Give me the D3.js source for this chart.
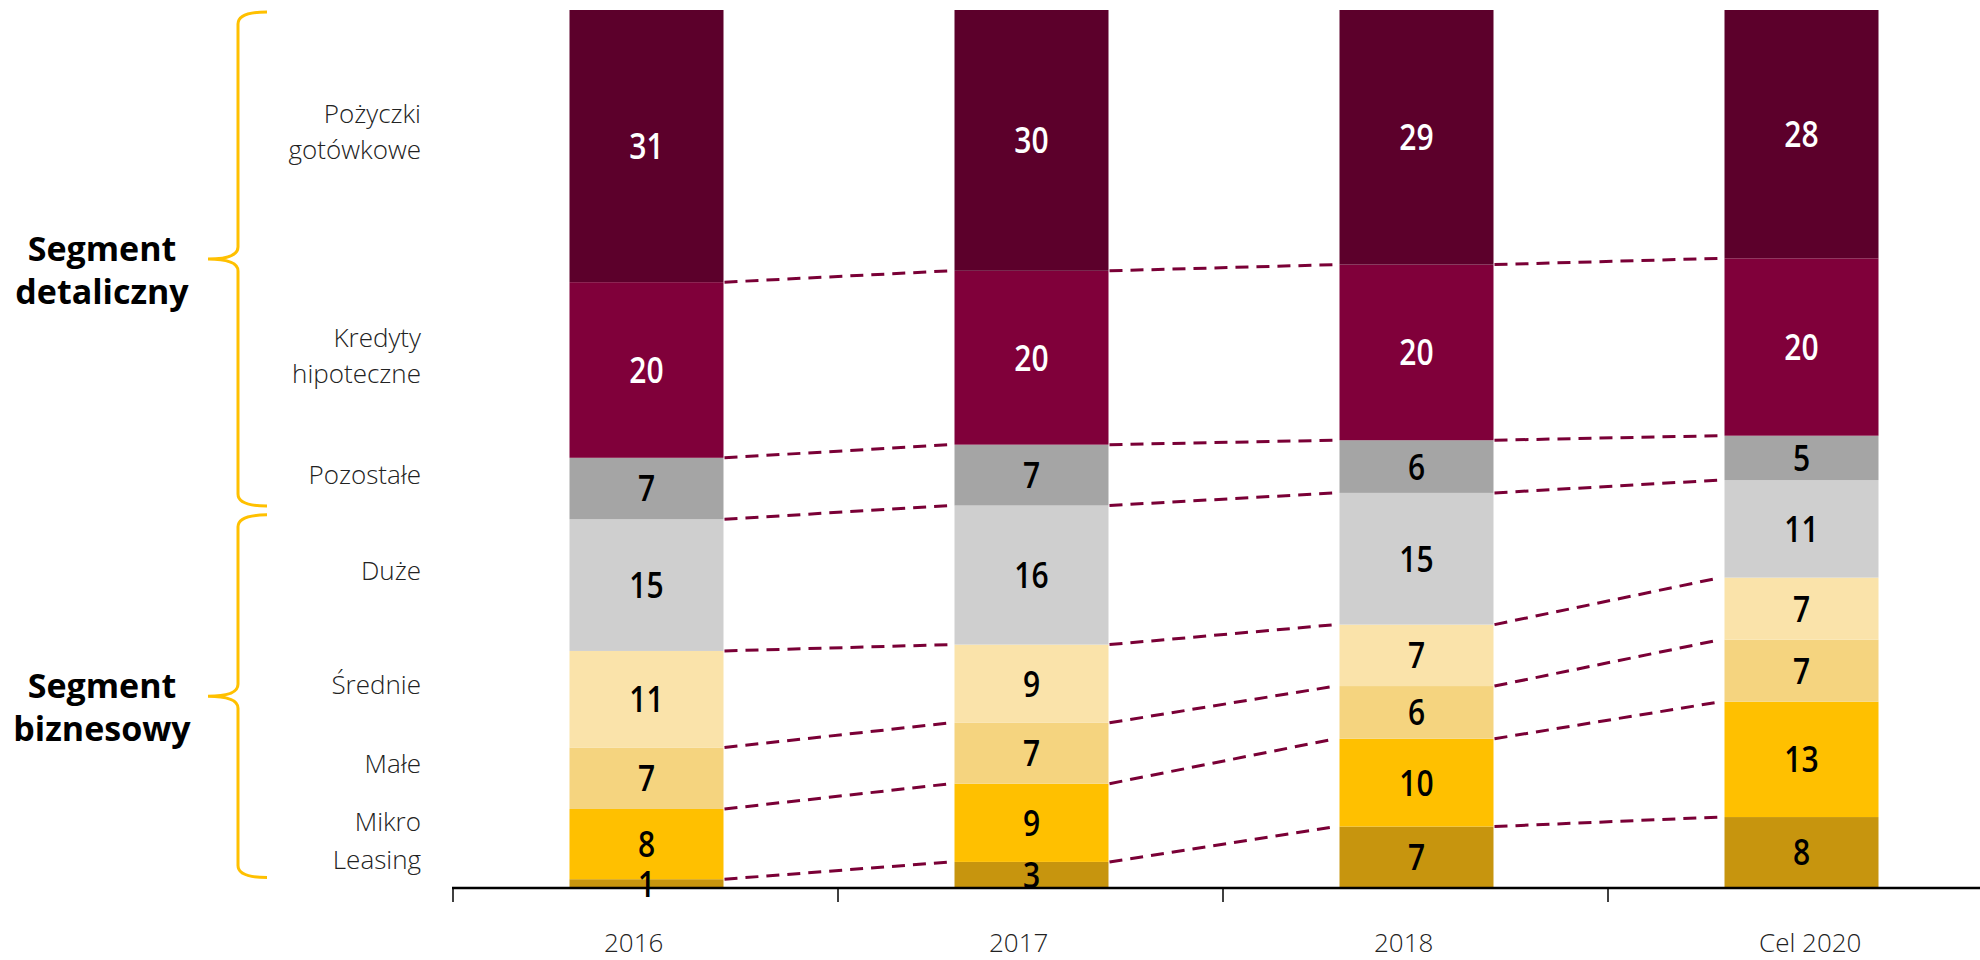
<!DOCTYPE html>
<html>
<head>
<meta charset="utf-8">
<script src="https://cdn.jsdelivr.net/npm/d3@7"></script>
<style>
  body { margin: 0; background: #fff; }
  svg { display: block; font-family: "Open Sans", "Noto Sans", sans-serif; }
</style>
</head>
<body>
<script>
// data (bottom of the stack first)
var years = ["2016", "2017", "2018", "Cel 2020"];
var categories = ["Leasing", "Mikro", "Małe", "Średnie", "Duże", "Pozostałe", "Kredyty hipoteczne", "Pożyczki gotówkowe"];
var leasing   = [1, 3, 7, 8];
var mikro     = [8, 9, 10, 13];
var male      = [7, 7, 6, 7];
var srednie   = [11, 9, 7, 7];
var duze      = [15, 16, 15, 11];
var pozostale = [7, 7, 6, 5];
var kredyty   = [20, 20, 20, 20];
var pozyczki  = [31, 30, 29, 28];
var groups = ["Segment detaliczny", "Segment biznesowy"];

var palette = ["#C7950E", "#FFC000", "#F5D47F", "#FAE3AA", "#CFCFCF", "#A5A5A5", "#80003A", "#5C002B"];
var series = [leasing, mikro, male, srednie, duze, pozostale, kredyty, pozyczki];

var w = 1980, h = 960;
var svg = d3.select("body").append("svg")
  .attr("width", w)
  .attr("height", h);

var table = years.map(function(y, i) {
  var row = {year: y};
  categories.forEach(function(c, k) { row[c] = series[k][i]; });
  return row;
});

var stack = d3.stack().keys(categories).offset(d3.stackOffsetExpand);
var layers = stack(table);

var x = d3.scaleBand().domain(years).range([454, 1994]);
var y = d3.scaleLinear().domain([0, 1]).range([888, 10]);
var bw = x.bandwidth() * 0.4;
var off = (x.bandwidth() - bw) / 2;

// bars
var g = svg.append("g");
layers.forEach(function(layer, k) {
  g.selectAll(null)
    .data(layer)
    .enter()
    .append("rect")
    .attr("x", function(d) { return x(d.data.year) + off; })
    .attr("y", function(d) { return y(d[1]); })
    .attr("width", bw)
    .attr("height", function(d) { return y(d[0]) - y(d[1]); })
    .attr("fill", palette[k]);
});

// dashed connectors between bars
for (var k = 0; k < layers.length - 1; k++) {
  for (var i = 0; i < years.length - 1; i++) {
    svg.append("line")
      .attr("x1", x(years[i]) + off + bw + 1)
      .attr("x2", x(years[i + 1]) + off - 4)
      .attr("y1", y(layers[k][i][1]))
      .attr("y2", y(layers[k][i + 1][1]))
      .attr("stroke", "#7A0036")
      .attr("stroke-width", 3)
      .attr("stroke-dasharray", "13,8");
  }
}

// value labels
layers.forEach(function(layer, k) {
  svg.selectAll(null)
    .data(layer)
    .enter()
    .append("text")
    .attr("transform", function(d) {
      return "translate(" + (x(d.data.year) + x.bandwidth() / 2) + "," + ((y(d[0]) + y(d[1])) / 2) + ") scale(1,1.2)";
    })
    .attr("dy", "0.36em")
    .attr("text-anchor", "middle")
    .attr("font-size", 30)
    .attr("font-weight", 600)
    .attr("fill", k >= 6 ? "#fff" : "#000")
    .text(function(d, i) { return series[k][i]; });
});

// x axis
svg.append("line")
  .attr("x1", 452).attr("x2", w)
  .attr("y1", 888).attr("y2", 888)
  .attr("stroke", "#000")
  .attr("stroke-width", 2.5);

svg.selectAll(".tick")
  .data(years)
  .enter()
  .append("line")
  .attr("x1", function(d) { return x(d) - 1; })
  .attr("x2", function(d) { return x(d) - 1; })
  .attr("y1", 888).attr("y2", 902)
  .attr("stroke", "#000")
  .attr("stroke-width", 1.5);

svg.selectAll(null)
  .data(years)
  .enter()
  .append("text")
  .attr("x", function(d) { return x(d) + 150; })
  .attr("y", 952)
  .attr("font-size", 26)
  .attr("font-weight", 300)
  .attr("fill", "#222")
  .text(function(d) { return d; });

// category labels on the left, at the middle of the 2016 segments
var first = layers.map(function(l) { return (y(l[0][0]) + y(l[0][1])) / 2 - 14; });
var pos = [];
for (var k = 0; k < first.length; k++) {
  var p = Math.min(first[k], 860);
  if (k > 0) p = Math.min(p, pos[k - 1] - 38);
  pos.push(p);
}
categories.forEach(function(c, k) {
  var lines = c.split(" ");
  var t = svg.append("text")
    .attr("text-anchor", "end")
    .attr("font-size", 26)
    .attr("font-weight", 300)
    .attr("fill", "#222");
  lines.forEach(function(line, j) {
    t.append("tspan")
      .attr("x", 421)
      .attr("y", pos[k] + (j - (lines.length - 1) / 2) * 36)
      .attr("dy", "0.35em")
      .text(line);
  });
});

// curly braces + group labels
function brace(y0, y1) {
  var ym = (y0 + y1) / 2;
  return "M267," + y0 + " Q238," + y0 + " 238," + (y0 + 12) +
    " L238," + (ym - 12) + " Q238," + ym + " 208," + ym +
    " Q238," + ym + " 238," + (ym + 12) +
    " L238," + (y1 - 12) + " Q238," + y1 + " 267," + y1;
}
var spans = [[y(1) + 2, y(0.435)], [y(0.425), y(0.012)]];
spans.forEach(function(s, i) {
  svg.append("path")
    .attr("d", brace(s[0], s[1]))
    .attr("fill", "none")
    .attr("stroke", "#FFC000")
    .attr("stroke-width", 3);
  var ym = (s[0] + s[1]) / 2;
  var t = svg.append("text")
    .attr("text-anchor", "middle")
    .attr("font-size", 34)
    .attr("font-weight", 700)
    .attr("fill", "#000");
  groups[i].split(" ").forEach(function(line, j) {
    t.append("tspan")
      .attr("x", 102)
      .attr("y", ym + 2 + j * 43)
      .text(line);
  });
});
</script>
</body>
</html>
